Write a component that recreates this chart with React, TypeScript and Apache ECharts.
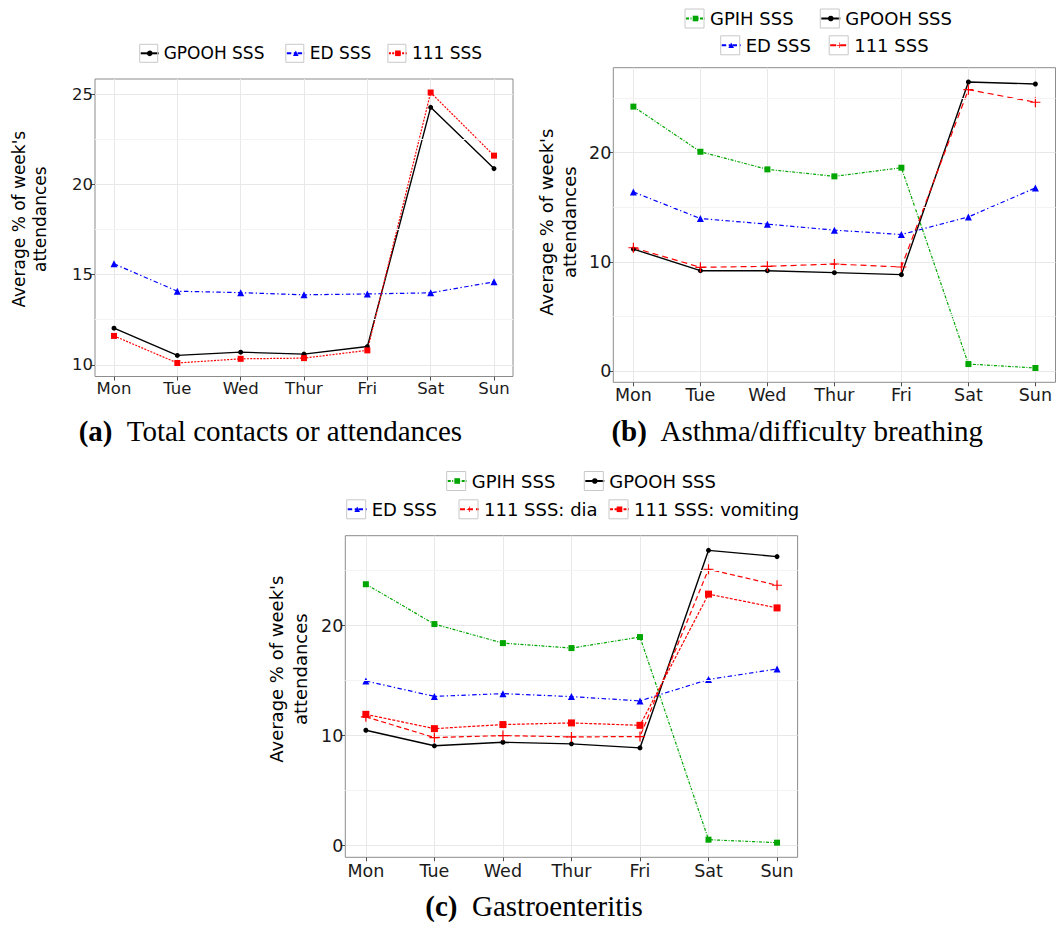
import React, { useEffect, useRef } from "react";
import * as echarts from "echarts";

// ---------- data ----------
const days = ["Mon", "Tue", "Wed", "Thur", "Fri", "Sat", "Sun"];

// (a) Total contacts or attendances
const aGPOOH = [12.03, 10.52, 10.7, 10.59, 11.01, 24.28, 20.88];
const aED = [15.6, 14.08, 14.0, 13.88, 13.93, 13.99, 14.6];
const a111 = [11.6, 10.1, 10.33, 10.37, 10.8, 25.1, 21.6];

// (b) Asthma/difficulty breathing
const bGPIH = [24.2, 20.07, 18.46, 17.82, 18.61, 0.65, 0.29];
const bGPOOH = [11.17, 9.19, 9.19, 9.01, 8.83, 26.45, 26.27];
const bED = [16.39, 13.96, 13.45, 12.9, 12.5, 14.11, 16.76];
const b111 = [11.29, 9.5, 9.59, 9.8, 9.53, 25.75, 24.6];

// (c) Gastroenteritis
const cGPIH = [23.75, 20.13, 18.4, 17.95, 18.95, 0.54, 0.27];
const cGPOOH = [10.48, 9.07, 9.39, 9.25, 8.88, 26.83, 26.26];
const cED = [14.96, 13.56, 13.81, 13.54, 13.15, 15.1, 16.05];
const c111dia = [11.7, 9.82, 10.0, 9.88, 9.91, 25.11, 23.66];
const c111vom = [11.93, 10.63, 11.0, 11.15, 10.93, 22.85, 21.6];

const aTicks = [10, 15, 20, 25];
const aMinor = [12.5, 17.5, 22.5];
const bcTicks = [0, 10, 20];
const bcMinor = [5, 15, 25];

const yTitle = "Average % of week's\nattendances";

// ---------- styles ----------
const SANS = "DejaVu Sans";
const SERIF = "Liberation Serif";
const BLACK = "#000000";
const BLUE = "#0000FF";
const RED = "#FF0000";
const GREEN = "#00A600";
const PLUS = "path://M4.4,0H5.6V4.4H10V5.6H5.6V10H4.4V5.6H0V4.4H4.4Z";

// day positions on the x value axis: 1..7
const dayPos = days.map((_, i) => i + 1);

type Panel = {
  id: string;
  rect: { left: number; top: number; width: number; height: number };
  yMin: number;
  yMax: number;
  ticks: number[];
  minor: number[];
  fs: number;
  xMargin: number;
  yMargin: number;
};

const panels: Panel[] = [
  { id: "a", rect: { left: 95, top: 79, width: 418, height: 297.5 }, yMin: 9.35, yMax: 25.85, ticks: aTicks, minor: aMinor, fs: 16.5, xMargin: 3, yMargin: 2 },
  { id: "b", rect: { left: 613.3, top: 67.7, width: 442.2, height: 314.6 }, yMin: -1.02, yMax: 27.76, ticks: bcTicks, minor: bcMinor, fs: 17.5, xMargin: 4, yMargin: 2 },
  { id: "c", rect: { left: 345.3, top: 535.7, width: 452.3, height: 321.6 }, yMin: -1.06, yMax: 28.16, ticks: bcTicks, minor: bcMinor, fs: 17.5, xMargin: 5, yMargin: 2 },
];

type SDef = {
  panel: number;
  label: string;
  values: number[];
  color: string;
  dash: number[] | "solid";
  symbol: string;
  size: number;
  width?: number;
};

const seriesDefs: SDef[] = [
  { panel: 0, label: "GPOOH SSS", values: aGPOOH, color: BLACK, dash: "solid", symbol: "circle", size: 5, width: 1.4 },
  { panel: 0, label: "ED SSS", values: aED, color: BLUE, dash: [4.5, 2.5, 1.3, 2.5], symbol: "triangle", size: 7 },
  { panel: 0, label: "111 SSS", values: a111, color: RED, dash: [2, 1.3], symbol: "rect", size: 6 },

  { panel: 1, label: "GPIH SSS", values: bGPIH, color: GREEN, dash: [3, 1.5, 1, 1.5], symbol: "rect", size: 6 },
  { panel: 1, label: "GPOOH SSS", values: bGPOOH, color: BLACK, dash: "solid", symbol: "circle", size: 5, width: 1.4 },
  { panel: 1, label: "ED SSS", values: bED, color: BLUE, dash: [4.5, 2.5, 1.3, 2.5], symbol: "triangle", size: 7 },
  { panel: 1, label: "111 SSS", values: b111, color: RED, dash: [6, 4], symbol: PLUS, size: 10 },

  { panel: 2, label: "GPIH SSS", values: cGPIH, color: GREEN, dash: [3, 1.5, 1, 1.5], symbol: "rect", size: 6 },
  { panel: 2, label: "GPOOH SSS", values: cGPOOH, color: BLACK, dash: "solid", symbol: "circle", size: 5, width: 1.4 },
  { panel: 2, label: "ED SSS", values: cED, color: BLUE, dash: [4.5, 2.5, 1.3, 2.5], symbol: "triangle", size: 7 },
  { panel: 2, label: "111 SSS: dia", values: c111dia, color: RED, dash: [5, 3], symbol: PLUS, size: 10 },
  { panel: 2, label: "111 SSS: vomiting", values: c111vom, color: RED, dash: [3, 1.5], symbol: "rect", size: 7 },
];

// legend key positions: [series index, key left x, row centre y, key size, font size]
const legendKeys: [number, number, number, number, number][] = [
  [0, 139.7, 53.3, 18, 17],
  [1, 285.8, 53.3, 18, 17],
  [2, 387.9, 53.3, 18, 17],
  [3, 685, 18.5, 19, 18],
  [4, 820.3, 18.5, 19, 18],
  [5, 720.7, 45.3, 19, 18],
  [6, 829.2, 45.3, 19, 18],
  [7, 446.7, 481, 19, 18],
  [8, 584.3, 481, 19, 18],
  [9, 346.7, 509.3, 19, 18],
  [10, 459, 509.3, 19, 18],
  [11, 609, 509.3, 19, 18],
];

const captions = [
  { tag: "(a)", text: "Total contacts or attendances", x: 270.5, y: 431 },
  { tag: "(b)", text: "Asthma/difficulty breathing", x: 797.6, y: 431 },
  { tag: "(c)", text: "Gastroenteritis", x: 534, y: 906 },
];

const yTitles = [
  { x: 29.1, y: 219.2, fs: 17, lh: 21 },
  { x: 557.9, y: 222.2, fs: 18, lh: 23.5 },
  { x: 288.7, y: 669.2, fs: 18, lh: 24 },
];

const sName = (s: SDef) => `${panels[s.panel].id}::${s.label}`;
const stripName = (n: string) => n.slice(n.indexOf("::") + 2);

function buildOption() {
  const grid: any[] = [];
  const xAxis: any[] = [];
  const yAxis: any[] = [];
  panels.forEach((p, i) => {
    grid.push({
      ...p.rect,
      show: true,
      borderColor: "#8C8C8C",
      borderWidth: 1,
      backgroundColor: "#FFFFFF",
      containLabel: false,
      outerBoundsMode: "none",
    });
    xAxis.push({
      type: "value",
      gridIndex: i,
      position: "bottom",
      offset: 0,
      min: 0.7,
      max: 7.3,
      axisLine: { show: false, onZero: false },
      axisTick: { show: true, customValues: dayPos, length: 4, lineStyle: { color: "#4D4D4D", width: 1 } },
      axisLabel: {
        customValues: dayPos,
        formatter: (v: number) => days[Math.round(v) - 1] ?? "",
        fontSize: p.fs,
        fontFamily: SANS,
        color: "#1A1A1A",
        margin: p.xMargin,
      },
      splitLine: { show: true, lineStyle: { color: "#E8E8E8", width: 1 } },
    });
    yAxis.push({
      type: "value",
      gridIndex: i,
      position: "left",
      offset: 0,
      min: p.yMin,
      max: p.yMax,
      axisLine: { show: false, onZero: false },
      axisTick: { show: true, inside: false, customValues: p.ticks, length: 4, lineStyle: { color: "#4D4D4D", width: 1 } },
      axisLabel: {
        customValues: p.ticks,
        inside: false,
        align: "right",
        fontSize: p.fs,
        fontFamily: SANS,
        color: "#1A1A1A",
        margin: p.yMargin,
      },
      splitLine: { show: true, lineStyle: { color: "#E8E8E8", width: 1 } },
    });
  });

  const series: any[] = [];
  // minor grid lines, one helper series per panel (drawn under the data)
  panels.forEach((p, i) => {
    series.push({
      type: "line",
      name: `minor-${p.id}`,
      xAxisIndex: i,
      yAxisIndex: i,
      data: [],
      silent: true,
      z: 1,
      markLine: {
        silent: true,
        symbol: ["none", "none"],
        label: { show: false },
        lineStyle: { color: "#F3F3F3", width: 1, type: "solid" },
        emphasis: { disabled: true },
        data: p.minor.map((v) => ({ yAxis: v })),
      },
    });
  });
  seriesDefs.forEach((s) => {
    series.push({
      type: "line",
      name: sName(s),
      xAxisIndex: s.panel,
      yAxisIndex: s.panel,
      data: s.values.map((v, i) => [dayPos[i], v]),
      symbol: s.symbol,
      symbolSize: s.size,
      showSymbol: true,
      lineStyle: { color: s.color, width: s.width ?? 1.2, type: s.dash },
      itemStyle: { color: s.color },
      emphasis: { disabled: true },
      z: 3,
    });
  });

  const legend = legendKeys.map(([si, x, y, k, fs]) => ({
    show: true,
    data: [sName(seriesDefs[si])],
    left: x,
    top: y - fs / 2,
    padding: 0,
    itemGap: 0,
    itemWidth: k,
    itemHeight: 7,
    selectedMode: false,
    formatter: stripName,
    textStyle: { fontSize: fs, fontFamily: SANS, color: "#000" },
  }));

  const graphic: any[] = [];
  legendKeys.forEach(([_, x, y, k]) => {
    graphic.push({
      type: "rect",
      shape: { x: x, y: y - k / 2, width: k, height: k },
      style: { fill: "none", stroke: "#C8C8C8", lineWidth: 1 },
      z: 10,
      silent: true,
    });
  });
  captions.forEach((c) => {
    graphic.push({
      type: "text",
      x: c.x,
      y: c.y,
      silent: true,
      style: {
        text: `{b|${c.tag}}{n|  ${c.text}}`,
        align: "center",
        verticalAlign: "middle",
        fill: "#000",
        rich: {
          b: { fontFamily: SERIF, fontSize: 29, fontWeight: "bold", fill: "#000" },
          n: { fontFamily: SERIF, fontSize: 29, fill: "#000" },
        },
      },
    });
  });
  yTitles.forEach((t) => {
    graphic.push({
      type: "text",
      x: t.x,
      y: t.y,
      rotation: Math.PI / 2,
      silent: true,
      style: {
        text: yTitle,
        align: "center",
        verticalAlign: "middle",
        fontFamily: SANS,
        fontSize: t.fs,
        lineHeight: t.lh,
        fill: "#000",
      },
    });
  });

  return {
    animation: false,
    backgroundColor: "#FFFFFF",
    grid,
    xAxis,
    yAxis,
    legend,
    series,
    graphic,
  };
}

export default function App() {
  const ref = useRef<HTMLDivElement>(null);
  useEffect(() => {
    if (!ref.current) return;
    const chart = echarts.init(ref.current, undefined, { renderer: "svg" });
    chart.setOption(buildOption() as any);
    return () => chart.dispose();
  }, []);
  return (
    <div
      ref={ref}
      style={{ position: "absolute", left: 0, top: 0, width: 1056, height: 926 }}
    />
  );
}
